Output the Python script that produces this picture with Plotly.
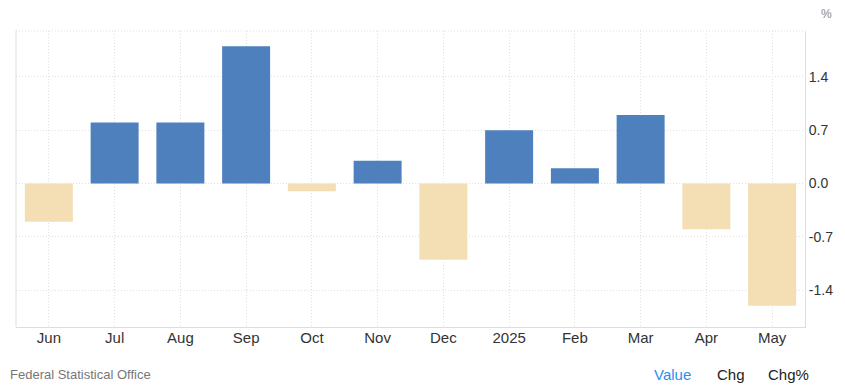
import plotly.graph_objects as go

months = ["Jun", "Jul", "Aug", "Sep", "Oct", "Nov", "Dec", "2025", "Feb", "Mar", "Apr", "May"]
values = [-0.5, 0.8, 0.8, 1.8, -0.1, 0.3, -1.0, 0.7, 0.2, 0.9, -0.6, -1.6]
tick_vals = [-1.4, -0.7, 0.0, 0.7, 1.4]
tick_text = ["-1.4", "-0.7", "0.0", "0.7", "1.4"]

POS = "#4d80bc"
NEG = "#f4deb4"
colors = [POS if v >= 0 else NEG for v in values]

GRID = "#e0e0e0"
DOTS = "1px,2px"

fig = go.Figure()
fig.add_trace(go.Bar(x=months, y=values, marker=dict(color=colors, line=dict(width=0)),
                     hoverinfo="x+y"))

# page has an 8px body margin, so the figure is drawn 8px smaller and offset
fig.update_layout(
    width=837, height=381,
    margin=dict(l=8, r=40, t=23, b=62, autoexpand=False),
    paper_bgcolor="white", plot_bgcolor="white",
    bargap=0.27,
    showlegend=False,
    font=dict(family="Liberation Sans, Arial, sans-serif", size=13, color="#333333"),
    xaxis=dict(
        type="category",
        showgrid=True, gridcolor=GRID, griddash=DOTS, gridwidth=1,
        showline=True, linecolor="#dddddd", linewidth=1,
        ticks="", tickfont=dict(size=15, color="#333333"),
        ticklabelstandoff=-3,
        automargin=False,
    ),
    yaxis=dict(
        side="right",
        range=[-1.88, 2.0],
        tickvals=tick_vals, ticktext=tick_text,
        showgrid=True, gridcolor=GRID, griddash=DOTS, gridwidth=1,
        zeroline=False,
        showline=True, linecolor="#dddddd", linewidth=1,
        ticks="", tickfont=dict(size=14, color="#333333"),
        automargin=False,
    ),
    shapes=[
        dict(type="line", xref="paper", yref="paper", x0=0, x1=1, y0=1, y1=1,
             line=dict(color=GRID, width=1, dash=DOTS)),
        dict(type="line", xref="paper", yref="paper", x0=0, x1=0, y0=0, y1=1,
             line=dict(color="#dddddd", width=1)),
    ],
    annotations=[
        dict(text="%", xref="paper", yref="paper", x=1.0, y=1.0, xshift=21, yshift=17,
             showarrow=False, font=dict(size=12, color="#888888"), xanchor="center", yanchor="middle"),
        dict(text="Federal Statistical Office", xref="paper", yref="paper", x=0, y=0,
             xshift=-8, yshift=-47, showarrow=False, xanchor="left", yanchor="middle",
             font=dict(size=13, color="#777777")),
        dict(text="Value", xref="paper", yref="paper", x=0, y=0, xshift=636, yshift=-47,
             showarrow=False, xanchor="left", yanchor="middle",
             font=dict(size=15, color="#2d8cf0")),
        dict(text="Chg", xref="paper", yref="paper", x=0, y=0, xshift=699, yshift=-47,
             showarrow=False, xanchor="left", yanchor="middle",
             font=dict(size=15, color="#222222")),
        dict(text="Chg%", xref="paper", yref="paper", x=0, y=0, xshift=750, yshift=-47,
             showarrow=False, xanchor="left", yanchor="middle",
             font=dict(size=15, color="#222222")),
    ],
)

fig.write_html("out.html")
